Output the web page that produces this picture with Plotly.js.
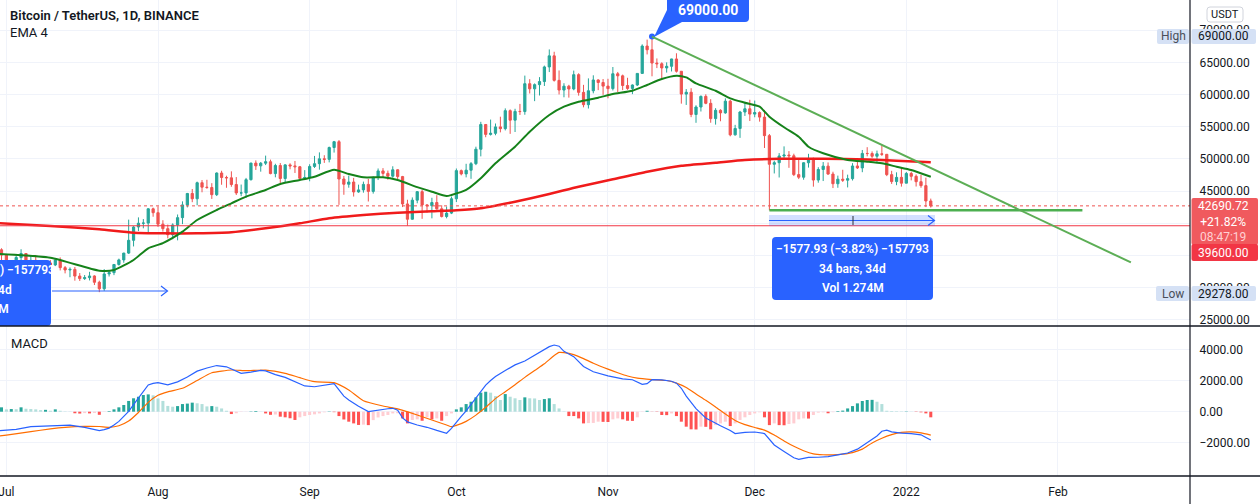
<!DOCTYPE html>
<html><head><meta charset="utf-8">
<script src="https://cdn.plot.ly/plotly-3.0.1.min.js"></script>
<style>html,body{margin:0;padding:0;background:#fff;overflow:hidden}#chart{width:1260px;height:504px}</style>
</head><body><div id="chart"></div>
<script>
// ---------- DATA ----------
const firstDay = '2021-06-30';
const opens = [35867,
35040,33573,33800,34670,35287,33690,34220,33863,32875,33815,33502,34259,33086,32729,32820,31780,31389,31533,31796,30817,29807,32110,32313,33581,34292,35350,37337,39406,39995,40008,42235,
41626,39845,39147,38207,39723,40862,42836,44614,43792,46285,45595,45545,44428,47793,47096,47047,46004,44695,44705,46760,49339,48905,49321,49546,47706,48960,46942,49058,48897,48767,46970,
47100,48810,49246,49999,49915,51756,52663,46863,46048,46395,44850,45173,46025,44940,47111,48121,47737,47299,48292,47241,42989,40614,43576,44895,42840,42716,43208,42235,41034,41564,
43790,48165,47657,48233,49245,51493,55339,53797,53963,54963,54691,57485,56006,57367,57347,61672,60875,61528,62009,64280,66001,62193,60688,61286,60853,63078,60328,58413,60575,62253,61859,
61299,60911,63219,62896,61395,60937,61470,63273,67525,66947,64882,64774,64122,64380,65519,63606,60058,60344,56891,58052,59707,58622,56247,57541,57138,58960,53726,54721,57274,57776,
56950,57184,56480,53601,49152,49396,50441,50588,50471,47545,47140,49389,50053,46702,48343,48864,47632,46131,46834,46681,46914,48889,48588,50838,50820,50400,50775,50701,47543,46464,47120,
46216,47722,47286,46446,45833,43451];
const highs = [36100,
35060,33939,34950,35950,35290,35000,35060,33910,34100,34260,34590,34680,33340,33125,33190,32250,31940,32440,31900,31063,32858,32599,33650,34490,35398,40550,39542,40900,40640,42320,42414,
42600,40460,39780,39969,41350,43392,44700,45310,46454,46700,46743,46218,47886,48144,47372,48053,47160,46000,47033,49382,49757,49500,50500,49875,49230,49347,49169,49309,49667,48888,48246,
49156,50450,51000,50558,51900,52780,52920,47340,47399,47033,45987,46460,46880,47250,48500,48557,48170,48843,48372,47347,43639,44000,45000,45200,42967,43950,44350,42787,42590,44141,
48495,48336,49228,49500,51886,55750,55400,56100,55489,56545,57839,57680,57777,58532,62933,62378,61718,62695,64486,67000,66639,63732,61747,61500,63710,63293,61496,62499,62980,62359,62405,
62437,64270,63500,63086,62595,61560,63286,67789,68524,69000,65600,65000,64990,65550,66401,63617,60840,60976,58320,59845,60029,59266,57875,57700,59398,59150,55280,57445,58865,59176,
59053,57375,57600,53859,49699,50891,51936,51200,50797,50125,49485,50777,50189,48700,49500,49436,47995,47392,48300,47537,49328,49576,51375,51810,51156,51280,52088,50704,48139,47900,48549,
47954,47990,47570,47505,47070,43816];
const lows = [34000,
32711,32700,33320,34100,33125,33500,33770,32080,32260,33000,33330,32660,32200,31600,31067,31020,31180,31100,30390,29278,29480,31708,31925,33400,33851,35205,36383,38772,39200,38313,41000,
39422,38690,37642,37508,37332,39853,42450,43261,42779,44800,45341,43770,44217,45971,45500,45660,44376,44203,43927,46622,48273,48003,49029,47600,47126,46250,46362,48370,47800,46853,46700,
46513,48584,48316,49370,49450,50969,42843,44412,45514,44134,44722,44742,43370,44594,46700,47021,46750,47050,46829,42500,39600,40565,43089,40675,41646,40750,42098,40888,40753,41410,
43283,47430,47119,46891,49020,50382,53357,53617,53661,54112,54416,53879,54167,56818,56850,60150,58963,59844,61322,63481,62000,60000,59562,59510,60650,59817,58000,57820,60174,60673,59945,
59405,60624,60382,60677,60721,60050,61322,63273,66222,62822,64100,62250,63400,63576,63400,58574,58373,56474,55600,57353,58486,55610,55317,55837,57000,53500,53610,53256,56666,55875,
56458,55777,51680,42000,47727,47100,50039,48600,47320,46852,46751,48638,45672,46290,46547,47511,45456,45500,46406,45558,46630,48421,47920,50384,50142,49412,50449,47313,46096,45900,45678,
46208,46654,45696,45500,42500,42430];
const closes = [35040,
33573,33800,34670,35287,33690,34220,33863,32875,33815,33502,34259,33086,32729,32820,31780,31389,31533,31796,30817,29807,32110,32313,33581,34292,35350,37337,39406,39995,40008,42235,41626,
39845,39147,38207,39723,40862,42836,44614,43792,46285,45595,45545,44428,47793,47096,47047,46004,44695,44705,46760,49339,48905,49321,49546,47706,48960,46942,49058,48897,48767,46970,47100,
48810,49246,49999,49915,51756,52663,46863,46048,46395,44850,45173,46025,44940,47111,48121,47737,47299,48292,47241,42989,40614,43576,44895,42840,42716,43208,42235,41034,41564,43790,
48165,47657,48233,49245,51493,55339,53797,53963,54963,54691,57485,56006,57367,57347,61672,60875,61528,62009,64280,66001,62193,60688,61286,60853,63078,60328,58413,60575,62253,61859,61299,
60911,63219,62896,61395,60937,61470,63273,67525,66947,64882,64774,64122,64380,65519,63606,60058,60344,56891,58052,59707,58622,56247,57541,57138,58960,53726,54721,57274,57776,56950,
57184,56480,53601,49152,49396,50441,50588,50471,47545,47140,49389,50053,46702,48343,48864,47632,46131,46834,46681,46914,48889,48588,50838,50820,50400,50775,50701,47543,46464,47120,46216,
47722,47286,46446,45833,43451,42690.72];
const macdHist = [280,
150,170,160,280,190,170,150,100,120,60,150,60,20,15,-100,-120,-90,-110,-80,-200,-20,40,150,280,430,690,860,960,1070,1110,1050,
850,690,370,320,360,490,520,580,540,490,340,360,320,210,60,-150,-100,-20,-10,20,45,10,-110,-200,-180,-320,-360,-420,-530,-360,-280,
-210,-170,-110,-40,20,-30,-280,-500,-640,-750,-850,-830,-860,-540,-370,-280,-210,-110,-100,-430,-750,-530,-490,-580,-360,-490,-430,-580,-280,-110,
150,280,490,640,920,1220,1280,1220,1000,750,1130,960,860,750,920,860,850,750,810,860,490,210,20,-280,-280,-430,-750,-730,-720,-640,-650,
-660,-490,-430,-490,-580,-590,-360,-20,60,-10,-20,-210,-220,-110,-280,-640,-960,-1130,-1140,-960,-970,-1130,-860,-750,-640,-920,-750,-530,-360,-210,
-110,-40,-360,-860,-750,-860,-870,-790,-750,-490,-430,-440,-210,-60,-40,-100,-30,40,70,210,360,535,685,750,760,640,490,60,40,30,20,
20,10,-20,-40,-107,-360];

const emaFastDates = ['2021-06-29','2021-07-10','2021-07-20','2021-07-23','2021-07-27','2021-07-30','2021-08-02','2021-08-06','2021-08-09','2021-08-13','2021-08-16','2021-08-19','2021-08-23','2021-08-26','2021-08-30','2021-09-02','2021-09-06','2021-09-09','2021-09-12','2021-09-16','2021-09-19','2021-09-23','2021-09-26','2021-09-29','2021-09-30','2021-10-03','2021-10-06','2021-10-09','2021-10-13','2021-10-16','2021-10-20','2021-10-23','2021-10-26','2021-10-30','2021-11-02','2021-11-06','2021-11-09','2021-11-12','2021-11-15','2021-11-17','2021-11-19','2021-11-23','2021-11-26','2021-11-29','2021-12-02','2021-12-04','2021-12-07','2021-12-10','2021-12-12','2021-12-15','2021-12-20','2021-12-24','2021-12-27','2021-12-30','2022-01-02','2022-01-06'];
const emaFastValues = [35250,34630,32620,32720,34280,36100,36900,38680,40490,42050,43090,44120,45160,46090,46710,47220,48300,47640,47130,47130,46700,45600,44890,44220,44380,45160,46970,49300,51880,54210,56810,58100,58880,59500,60070,60580,61470,62400,62910,62650,61720,60580,59400,58720,58100,56550,54900,53440,51880,50860,49820,49550,49300,48780,48260,47220];

const emaSlowDates = ['2021-06-29','2021-07-10','2021-07-20','2021-07-27','2021-08-02','2021-08-09','2021-08-16','2021-08-23','2021-08-30','2021-09-05','2021-09-12','2021-09-19','2021-09-26','2021-10-01','2021-10-06','2021-10-13','2021-10-20','2021-10-26','2021-11-02','2021-11-09','2021-11-16','2021-11-23','2021-11-29','2021-12-06','2021-12-15','2021-12-24','2021-12-30','2022-01-06'];
const emaSlowValues = [40000,39560,39040,38520,38420,38420,38580,39200,39980,40760,41270,41630,41840,42000,42310,43340,44530,45670,46820,48000,48930,49400,49820,50000,50000,49900,49700,49450];

const macdDates = ['2021-06-29','2021-07-01','2021-07-03','2021-07-06','2021-07-09','2021-07-12','2021-07-14','2021-07-17','2021-07-19','2021-07-20','2021-07-21','2021-07-22','2021-07-23','2021-07-24','2021-07-25','2021-07-26','2021-07-27','2021-07-28','2021-07-29','2021-07-30','2021-07-31','2021-08-01','2021-08-03','2021-08-05','2021-08-07','2021-08-09','2021-08-11','2021-08-13','2021-08-15','2021-08-17','2021-08-18','2021-08-20','2021-08-22','2021-08-23','2021-08-25','2021-08-27','2021-08-29','2021-08-31','2021-09-02','2021-09-04','2021-09-06','2021-09-07','2021-09-08','2021-09-09','2021-09-10','2021-09-11','2021-09-13','2021-09-15','2021-09-17','2021-09-18','2021-09-19','2021-09-20','2021-09-21','2021-09-23','2021-09-25','2021-09-27','2021-09-29','2021-09-30','2021-10-01','2021-10-02','2021-10-03','2021-10-04','2021-10-05','2021-10-06','2021-10-07','2021-10-08','2021-10-09','2021-10-11','2021-10-13','2021-10-15','2021-10-17','2021-10-19','2021-10-20','2021-10-21','2021-10-22','2021-10-23','2021-10-25','2021-10-27','2021-10-29','2021-11-01','2021-11-04','2021-11-06','2021-11-08','2021-11-09','2021-11-10','2021-11-12','2021-11-14','2021-11-15','2021-11-16','2021-11-17','2021-11-18','2021-11-19','2021-11-21','2021-11-23','2021-11-24','2021-11-26','2021-11-27','2021-11-29','2021-12-01','2021-12-03','2021-12-04','2021-12-05','2021-12-07','2021-12-09','2021-12-10','2021-12-12','2021-12-14','2021-12-16','2021-12-18','2021-12-20','2021-12-22','2021-12-24','2021-12-26','2021-12-27','2021-12-28','2021-12-29','2021-12-31','2022-01-02','2022-01-04','2022-01-05','2022-01-06'];
const macdValues = [-1230,-1180,-1130,-960,-920,-870,-860,-1000,-1150,-1218,-1150,-1050,-850,-620,-300,20,450,870,1300,1712,1820,1860,1720,1910,2220,2600,2800,2960,2880,2600,2462,2540,2650,2620,2380,2200,1900,1650,1600,1700,1800,1400,1000,750,550,350,10,120,190,218,100,-400,-650,-850,-1000,-1200,-1380,-1064,-650,-300,50,450,900,1300,1700,2000,2250,2640,3000,3250,3600,4000,4170,4276,4200,3870,3530,2900,2560,2300,2100,2050,1750,1800,2050,2040,1950,1830,1500,1000,600,200,-400,-750,-900,-1200,-1400,-1330,-1300,-1400,-1800,-2135,-2550,-2950,-3051,-2930,-2920,-2880,-2770,-2650,-2400,-1950,-1558,-1250,-1180,-1290,-1370,-1400,-1480,-1650,-1814];

const signalDates = ['2021-06-29','2021-07-01','2021-07-06','2021-07-10','2021-07-13','2021-07-17','2021-07-20','2021-07-22','2021-07-24','2021-07-26','2021-07-28','2021-07-30','2021-08-01','2021-08-03','2021-08-06','2021-08-09','2021-08-12','2021-08-16','2021-08-19','2021-08-23','2021-08-27','2021-08-30','2021-09-02','2021-09-06','2021-09-09','2021-09-12','2021-09-16','2021-09-19','2021-09-23','2021-09-26','2021-09-29','2021-09-30','2021-10-01','2021-10-03','2021-10-05','2021-10-07','2021-10-09','2021-10-11','2021-10-13','2021-10-15','2021-10-17','2021-10-19','2021-10-21','2021-10-22','2021-10-23','2021-10-25','2021-10-27','2021-10-29','2021-11-01','2021-11-03','2021-11-05','2021-11-07','2021-11-10','2021-11-13','2021-11-15','2021-11-17','2021-11-19','2021-11-21','2021-11-23','2021-11-25','2021-11-27','2021-11-29','2021-12-01','2021-12-03','2021-12-05','2021-12-07','2021-12-09','2021-12-11','2021-12-13','2021-12-15','2021-12-17','2021-12-19','2021-12-21','2021-12-23','2021-12-25','2021-12-27','2021-12-29','2021-12-31','2022-01-02','2022-01-04','2022-01-06'];
const signalValues = [-1580,-1500,-1282,-1100,-1000,-940,-950,-1000,-900,-600,-50,600,1050,1270,1500,2000,2500,2673,2628,2670,2462,2180,1923,1860,1391,705,365,180,-212,-532,-853,-962,-880,-620,-220,280,840,1280,1730,2200,2640,3070,3600,3800,3790,3660,3400,3110,2730,2500,2290,2150,2060,2000,1830,1550,1130,730,300,-150,-560,-830,-1010,-1180,-1500,-1880,-2220,-2500,-2700,-2760,-2770,-2720,-2620,-2400,-2000,-1700,-1470,-1320,-1290,-1360,-1500];

const monthTicks = ['2021-07-01','2021-08-01','2021-09-01','2021-10-01','2021-11-01','2021-12-01','2022-01-01','2022-02-01'];
const monthLabels = ['Jul','Aug','Sep','Oct','Nov','Dec','2022','Feb'];
const priceTicks = [25000,30000,35000,40000,45000,50000,55000,60000,65000,70000];
const hiddenPriceTicks = [35000,40000];   // fully covered by price labels in the reference
const macdTicks = [-2000,0,2000,4000];
const macdTickLabels = ['\u22122000.00','0.00','2000.00','4000.00'];

const lastPrice = 42690.72, lastChange = '+21.82%', countdown = '08:47:19', levelLine = 39600, supportLine = 42000;
const supportStart = '2021-12-04', supportEnd = '2022-02-06';
const trendStart = ['2021-11-10', 69000], trendEnd = ['2022-02-15 22:00', 33900];
const highValue = 69000, lowValue = 29278;
const measureLines = ['\u22121577.93 (\u22123.82%) \u2212157793', '34 bars, 34d', 'Vol 1.274M'];

// ---------- BUILD ----------
const t0 = Date.parse(firstDay + 'T00:00:00Z');
const dates = closes.map((_, i) => new Date(t0 + i * 86400000).toISOString().slice(0, 10));
const histColors = macdHist.map((v, i) => {
  const p = i > 0 ? macdHist[i - 1] : v;
  if (v >= 0) return v >= p ? '#26a69a' : '#b2dfdb';
  return v <= p ? '#ff5252' : '#ffcdd2';
});

const W = 1190, H = 476;
const X = p => p / W, Y = p => (H - p) / H;
const FONT = 'Roboto, sans-serif', TXT = '#131722';

function rr(x0, y0, x1, y1, r) {
  const a = (x, y) => X(x) + ',' + Y(y);
  return 'M' + a(x0 + r, y0) + ' L' + a(x1 - r, y0) + ' Q' + a(x1, y0) + ' ' + a(x1, y0 + r) +
    ' L' + a(x1, y1 - r) + ' Q' + a(x1, y1) + ' ' + a(x1 - r, y1) + ' L' + a(x0 + r, y1) +
    ' Q' + a(x0, y1) + ' ' + a(x0, y1 - r) + ' L' + a(x0, y0 + r) + ' Q' + a(x0, y0) + ' ' + a(x0 + r, y0) + ' Z';
}
function pth(points, close) {
  return points.map((p, i) => (i ? 'L' : 'M') + X(p[0]) + ',' + Y(p[1])).join(' ') + (close ? ' Z' : '');
}
const ps = (path, fill, lineColor, lw) => ({type: 'path', xref: 'paper', yref: 'paper', path, fillcolor: fill || 'rgba(0,0,0,0)', line: {color: lineColor || 'rgba(0,0,0,0)', width: lw || 0}, layer: 'above'});
const pl = (x0, y0, x1, y1, color, w) => ({type: 'line', xref: 'paper', yref: 'paper', x0: X(x0), y0: Y(y0), x1: X(x1), y1: Y(y1), line: {color, width: w}, layer: 'above'});
const txt = (x, y, text, opt) => Object.assign({xref: 'paper', yref: 'paper', x: X(x), y: Y(y), text, showarrow: false, xanchor: 'center', yanchor: 'middle', font: {family: FONT, size: 12, color: TXT}}, opt || {});

const traces = [
  {type: 'candlestick', x: dates, open: opens, high: highs, low: lows, close: closes, xaxis: 'x', yaxis: 'y',
   increasing: {line: {color: '#26a69a', width: 1}, fillcolor: '#26a69a'},
   decreasing: {line: {color: '#ef5350', width: 1}, fillcolor: '#ef5350'}, whiskerwidth: 0, hoverinfo: 'skip'},
  {type: 'scatter', mode: 'lines', x: emaSlowDates, y: emaSlowValues, yaxis: 'y', line: {color: '#f01b1b', width: 2.5, shape: 'spline', smoothing: 0.6}, hoverinfo: 'skip'},
  {type: 'scatter', mode: 'lines', x: emaFastDates, y: emaFastValues, yaxis: 'y', line: {color: '#15821a', width: 2, shape: 'spline', smoothing: 0.6}, hoverinfo: 'skip'},
  {type: 'scatter', mode: 'markers', x: [trendStart[0]], y: [highValue], yaxis: 'y', marker: {color: '#2962ff', size: 6}, hoverinfo: 'skip'},
  {type: 'bar', x: dates, y: macdHist, yaxis: 'y2', marker: {color: histColors, line: {width: 0}}, hoverinfo: 'skip'},
  {type: 'scatter', mode: 'lines', x: signalDates, y: signalValues, yaxis: 'y2', line: {color: '#ff6d00', width: 1.2, shape: 'spline', smoothing: 0.5}, hoverinfo: 'skip'},
  {type: 'scatter', mode: 'lines', x: macdDates, y: macdValues, yaxis: 'y2', line: {color: '#2962ff', width: 1.2}, hoverinfo: 'skip'}
];

const BLUE = '#2962ff', LB = '#d5e1f5';
const shapes = [
  {type: 'line', xref: 'paper', x0: 0, x1: 1, yref: 'y', y0: lastPrice, y1: lastPrice, line: {color: '#ef5350', width: 1, dash: 'dot'}},
  {type: 'line', xref: 'paper', x0: 0, x1: 1, yref: 'y', y0: levelLine, y1: levelLine, line: {color: '#f23645', width: 1}},
  {type: 'line', xref: 'x', x0: supportStart, x1: supportEnd, yref: 'y', y0: supportLine, y1: supportLine, line: {color: '#4caf50', width: 2.5}},
  {type: 'line', xref: 'x', x0: trendStart[0], y0: trendStart[1], x1: trendEnd[0], y1: trendEnd[1], yref: 'y', line: {color: '#5cae55', width: 2}},
  // measure band (right)
  ps(pth([[769, 215], [935, 215], [935, 226], [769, 226]], true), 'rgba(41,98,255,0.2)'),
  pl(769, 220.5, 934, 220.5, BLUE, 1.2),
  ps(pth([[928, 215.5], [934.5, 220.5], [928, 225.5]]), null, BLUE, 1.2),
  pl(853, 216, 853, 225, '#2a2e39', 1),
  ps(rr(772, 237, 933, 300, 4), BLUE),
  // left measure remnants
  ps(rr(-10, 260, 51, 326, 4), BLUE),
  pl(52, 291, 167, 291, BLUE, 1.2),
  ps(pth([[161, 286], [167.5, 291], [161, 296]]), null, BLUE, 1.2),
  // 69000 callout
  ps(rr(667, -6, 749, 22, 4), BLUE),
  ps(pth([[667, 10], [682, 22], [654, 37]], true), BLUE),
  // pane separators and price-axis line
  pl(0, 326, 1260, 326, '#131722', 1.5),
  pl(0, 476, 1260, 476, '#131722', 1.5),
  pl(1190, 0, 1190, 504, '#131722', 1.2),
  // right-side labels
  ps(rr(1207, 7, 1243, 22, 3), '#ffffff', '#d1d4dc', 1),
  ps(rr(1157, 29, 1189, 44, 2), LB),
  ps(rr(1191.5, 29, 1256, 44, 2), LB),
  ps(rr(1156, 286, 1189, 301, 2), LB),
  ps(rr(1191.5, 286, 1256, 301, 2), LB),
  ps(rr(1191.5, 198, 1258, 245, 2), '#f05a5e'),
  ps(rr(1191.5, 244, 1258, 261, 2), '#f23645')
];

const mFont = {family: FONT, size: 12, color: '#ffffff', weight: 600};
const ann = [
  txt(8, 16, 'Bitcoin / TetherUS, 1D, BINANCE', {xanchor: 'left', font: {family: FONT, size: 13, color: TXT, weight: 600}}),
  txt(8, 33, 'EMA 4', {xanchor: 'left', font: {family: FONT, size: 13, color: TXT}}),
  txt(9, 343, 'MACD', {xanchor: 'left', font: {family: FONT, size: 13, color: TXT}}),
  txt(708, 10, highValue.toFixed(2), {font: {family: FONT, size: 14, color: '#ffffff', weight: 700}}),
  txt(852.5, 249, measureLines[0], {font: mFont}),
  txt(852.5, 268.5, measureLines[1], {font: mFont}),
  txt(852.5, 288, measureLines[2], {font: mFont}),
  txt(-22, 270, measureLines[0], {font: mFont}),
  txt(-22, 289.5, measureLines[1], {font: mFont}),
  txt(-22, 309, measureLines[2], {font: mFont}),
  txt(1225, 14.5, 'USDT', {font: {family: FONT, size: 11, color: TXT}}),
  txt(1173, 36.5, 'High', {font: {family: FONT, size: 12, color: '#4a4e59'}}),
  txt(1224, 36.5, highValue.toFixed(2), {font: {family: FONT, size: 12, color: TXT}}),
  txt(1172.5, 293.5, 'Low', {font: {family: FONT, size: 12, color: '#4a4e59'}}),
  txt(1224, 293.5, lowValue.toFixed(2), {font: {family: FONT, size: 12, color: TXT}}),
  txt(1224, 221, lastPrice.toFixed(2) + '<br>' + lastChange + '<br><span style="color:#ffd0d3">' + countdown + '</span>',
      {font: {family: FONT, size: 12, color: '#ffffff'}}),
  txt(1224, 252.5, levelLine.toFixed(2), {font: {family: FONT, size: 12, color: '#ffffff'}})
];

const GRID = '#f0f3fa';
const layout = {
  width: 1260, height: 504,
  margin: {l: 0, r: 70, t: 0, b: 28, pad: 0},
  paper_bgcolor: '#ffffff', plot_bgcolor: '#ffffff',
  showlegend: false, hovermode: false, dragmode: false,
  bargap: 0.38, boxgap: 0.35,
  font: {family: FONT, size: 12, color: TXT},
  xaxis: {type: 'date', range: ['2021-06-29 16:38', '2022-02-28 00:00'], anchor: 'y2',
    tickvals: monthTicks, ticktext: monthLabels, showgrid: true, gridcolor: GRID, gridwidth: 1,
    ticks: 'outside', ticklen: 5, tickcolor: 'rgba(0,0,0,0)', zeroline: false, showline: false,
    ticklabeloverflow: 'allow', rangeslider: {visible: false},
    tickfont: {family: FONT, size: 12, color: TXT}, fixedrange: true},
  yaxis: {domain: [150 / 476, 1], range: [24021, 74681], side: 'right', anchor: 'x',
    tickvals: priceTicks, ticktext: priceTicks.map(v => hiddenPriceTicks.includes(v) ? '' : v.toFixed(2)),
    showgrid: true, gridcolor: GRID,
    zeroline: false, showline: false, ticks: 'outside', ticklen: 6, tickcolor: 'rgba(0,0,0,0)',
    ticklabelstandoff: 0, tickfont: {family: FONT, size: 12, color: TXT}, fixedrange: true},
  yaxis2: {domain: [0, 150 / 476], range: [-4122, 5494], side: 'right', anchor: 'x',
    tickvals: macdTicks, ticktext: macdTickLabels, showgrid: true, gridcolor: GRID,
    zeroline: false, showline: false, ticks: 'outside', ticklen: 6, tickcolor: 'rgba(0,0,0,0)',
    ticklabelstandoff: 0, tickfont: {family: FONT, size: 12, color: TXT}, fixedrange: true},
  shapes, annotations: ann
};

Plotly.newPlot('chart', traces, layout, {staticPlot: true, displayModeBar: false});
</script></body></html>
